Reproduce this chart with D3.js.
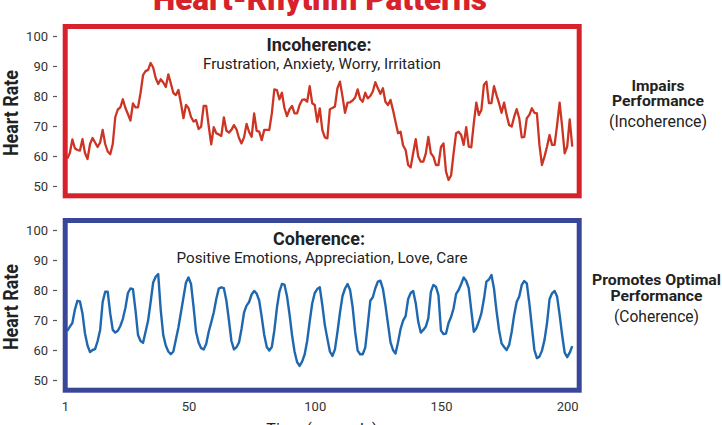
<!DOCTYPE html>
<html>
<head>
<meta charset="utf-8">
<script src="https://cdn.jsdelivr.net/npm/d3@7/dist/d3.min.js"></script>
<style>
  html, body { margin: 0; padding: 0; background: #fff; }
  svg { display: block; font-family: Roboto, "Noto Sans", sans-serif; }
</style>
</head>
<body>
<svg id="chart" width="722" height="425"></svg>
<script>
// ---- Data ----
const startIndex = 2;
const incoherence = [
  59.2,61,65.5,62.6,62,61.8,65.6,61,59,64,66,64.5,63,64.5,68.7,64,61.5,60.6,64,
  73,75.5,76.2,78.9,76,74,71.8,77.5,76.2,76.2,81,87,88.3,88.7,91,89.5,86,84,85.6,84.5,
  83,87.2,84.2,81,80.3,82,77.6,72.6,77,76,73,71.5,72,69,69.8,76.7,76.7,70,63.9,69.6,
  67.6,67.2,66.7,72.9,68.5,67.8,68.7,70.3,68.9,66,64.2,66.2,70.7,68,66.4,74.2,68.4,68.1,65.3,68.7,
  68.7,68.7,74.2,82.2,82,78.9,81.1,76,73.3,75.5,76.7,74.2,74.2,77,78.7,78.9,78.1,83.3,77.6,77,
  71.4,75.9,68.7,66.2,65.9,75.6,76,76.5,82.6,84.8,79.8,74.4,77.8,77.9,78.5,79.5,82.2,79,78.1,81.1,
  79.2,80,81.5,84.6,82.6,80.7,82.6,78.1,77,78.7,75.3,71.4,67.6,68.1,63.5,62,57,56.2,61,65.6,
  59.8,58.1,58.1,60.9,66.4,60.9,59.8,57,57,63,64.2,54.8,52,53.5,60.9,67.6,68.1,67,63.7,69.6,
  63.1,62.9,70.9,77.8,73.7,75.3,83.7,84.8,77.6,77.6,83.3,80.3,77.6,74.4,77.8,73.7,70.3,69.8,73.1,75.6,
  72.6,66.2,66.4,72.6,73.7,75.9,74.4,74.2,63.7,57,59.8,63.1,67,63.7,63.7,70.3,77.8,69.8,60.9,63.1,
  72.2,63.1
];
const coherence = [
  66.4,67.8,69,73.5,76.4,76.2,72.2,65.5,61.5,59.3,60,60.3,63,66.7,76,79.4,79.4,72.2,66.7,
  65.8,66.4,68,70.4,74,79,80.5,80.3,73.3,65,63,62.4,66.1,69.8,76,82.5,84.4,85.3,73.3,65,
  61.5,59.5,58.6,59.5,63.5,67.5,72.5,77.5,82.5,84.2,82,74.4,66,62.5,60.6,60.2,62,66.1,69.2,72.5,
  77,80.5,80.9,80.6,76.5,70,63,60.2,60.9,62.5,67,72.5,74.8,76,78.5,79.7,78.8,76.5,71,65,
  61,59.8,61,66.5,73.9,79.4,82,81.8,78,72,65,59.5,56,54.7,56.1,58.5,63,69.5,75.5,79,
  80.3,80.9,75,68.3,63.8,59.5,58,60.2,66,72.5,78,80.5,82,80,74.4,66.1,59.8,58.6,58.6,60.8,
  68.3,76.4,77.6,80.6,82.8,83.1,80.4,75,68.8,62.6,60,58.8,62.6,67,69.8,71.3,77,79,79.7,75.6,
  69.4,65.8,66.7,67.8,70.6,79.4,81.7,81.1,78.3,66.5,65.3,65.5,69,71,73.9,78.7,80,82,84.2,83,
  80.6,73.3,66.1,67.2,69.5,72.2,76.9,82.8,83.5,85,80.5,73,66.7,62.2,61,60,61.7,66,71.7,76.1,
  77.8,81.7,83,82.2,75.6,67.8,60,57.3,57.8,59.8,63.3,68.9,76.9,78.9,79.7,77.8,71.7,65,59.1,57.6,
  59.1,61.3
];
const yTicks = [50, 60, 70, 80, 90, 100];
const xTicks = [1, 50, 100, 150, 200];
const chartTitle = "Heart-Rhythm Patterns";
const yLabel = "Heart Rate";
const xLabel = "Time (seconds)";
const panelTitles = ["Incoherence:", "Coherence:"];
const panelSubtitles = ["Frustration, Anxiety, Worry, Irritation", "Positive Emotions, Appreciation, Love, Care"];
const sideBold = [["Impairs", "Performance"], ["Promotes Optimal", "Performance"]];
const sideParen = ["(Incoherence)", "(Coherence)"];

// ---- Drawing ----
const svg = d3.select("#chart");
const x = d3.scaleLinear().domain([1, 200]).range([64.8, 567.2]);

const panels = [
  { data: incoherence, top: 36, bottom: 186, box: [65.2, 26.5, 579.2, 195.8], boxColor: "#d8222b", lineColor: "#cc3524", lineW: 2.3, sideY: 90.7 },
  { data: coherence,   top: 230, bottom: 380, box: [65.2, 220.5, 579.2, 390.2], boxColor: "#39479a", lineColor: "#1f68b0", lineW: 2.4, sideY: 285 }
];

svg.append("text")
  .attr("x", 320).attr("y", 10)
  .attr("text-anchor", "middle")
  .attr("font-size", 31).attr("font-weight", "900")
  .attr("fill", "#d8222b")
  .attr("textLength", 334).attr("lengthAdjust", "spacingAndGlyphs")
  .text(chartTitle);

panels.forEach((p, k) => {
  const y = d3.scaleLinear().domain([50, 100]).range([p.bottom, p.top]);
  const g = svg.append("g");

  // y axis
  const ax = g.append("g").attr("transform", "translate(57,0)")
    .call(d3.axisLeft(y).tickValues(yTicks).tickSize(4).tickPadding(5));
  ax.select(".domain").remove();
  ax.selectAll(".tick line").attr("stroke", "#555").attr("stroke-width", 1.2);
  ax.selectAll(".tick text").attr("font-size", 13).attr("fill", "#333")
    .attr("font-family", "Roboto, sans-serif");

  // y label
  const cy = (p.top + p.bottom) / 2 + 2;
  g.append("text")
    .attr("transform", `translate(18,${cy}) rotate(-90)`)
    .attr("text-anchor", "middle")
    .attr("font-size", 20).attr("font-weight", "bold").attr("fill", "#222")
    .attr("textLength", 86).attr("lengthAdjust", "spacingAndGlyphs")
    .text(yLabel);

  // line
  const line = d3.line()
    .x((d, i) => x(i + startIndex))
    .y(d => y(d));
  g.append("path")
    .datum(p.data)
    .attr("fill", "none")
    .attr("stroke", p.lineColor)
    .attr("stroke-width", p.lineW)
    .attr("stroke-linejoin", "round")
    .attr("d", line);

  // box
  const [bx0, by0, bx1, by1] = p.box;
  g.append("rect")
    .attr("x", bx0).attr("y", by0)
    .attr("width", bx1 - bx0).attr("height", by1 - by0)
    .attr("fill", "none")
    .attr("stroke", p.boxColor).attr("stroke-width", 5);

  // panel title
  g.append("text")
    .attr("x", 319).attr("y", by0 + 24.5)
    .attr("text-anchor", "middle")
    .attr("font-size", 18).attr("font-weight", "bold").attr("fill", "#222")
    .attr("textLength", k === 0 ? 105 : 92).attr("lengthAdjust", "spacingAndGlyphs")
    .text(panelTitles[k]);
  g.append("text")
    .attr("x", 322).attr("y", by0 + 42.2)
    .attr("text-anchor", "middle")
    .attr("font-size", 14.5).attr("fill", "#222")
    .attr("textLength", k === 0 ? 238 : 291).attr("lengthAdjust", "spacingAndGlyphs")
    .text(panelSubtitles[k]);

  // side text
  const sx = k === 0 ? 658 : 656.5;
  sideBold[k].forEach((t, j) => {
    g.append("text")
      .attr("x", sx).attr("y", p.sideY + j * 15.5)
      .attr("text-anchor", "middle")
      .attr("font-size", 15).attr("font-weight", "bold").attr("fill", "#222")
      .attr("textLength", k === 0 ? (j === 0 ? 53 : 92) : (j === 0 ? 129 : 92))
      .attr("lengthAdjust", "spacingAndGlyphs")
      .text(t);
  });
  g.append("text")
    .attr("x", sx).attr("y", p.sideY + 36.5)
    .attr("text-anchor", "middle")
    .attr("font-size", 16).attr("fill", "#222")
    .attr("textLength", k === 0 ? 98 : 85).attr("lengthAdjust", "spacingAndGlyphs")
    .text(sideParen[k]);
});

// x axis
const xa = svg.append("g").attr("transform", "translate(0,402)")
  .call(d3.axisBottom(x).tickValues(xTicks).tickSize(0).tickPadding(0).tickFormat(d3.format("d")));
xa.select(".domain").remove();
xa.selectAll(".tick text").attr("font-size", 13).attr("fill", "#333")
  .attr("font-family", "Roboto, sans-serif");

svg.append("text")
  .attr("x", 322).attr("y", 435)
  .attr("text-anchor", "middle")
  .attr("font-size", 16).attr("fill", "#222")
  .text(xLabel);
</script>
</body>
</html>
